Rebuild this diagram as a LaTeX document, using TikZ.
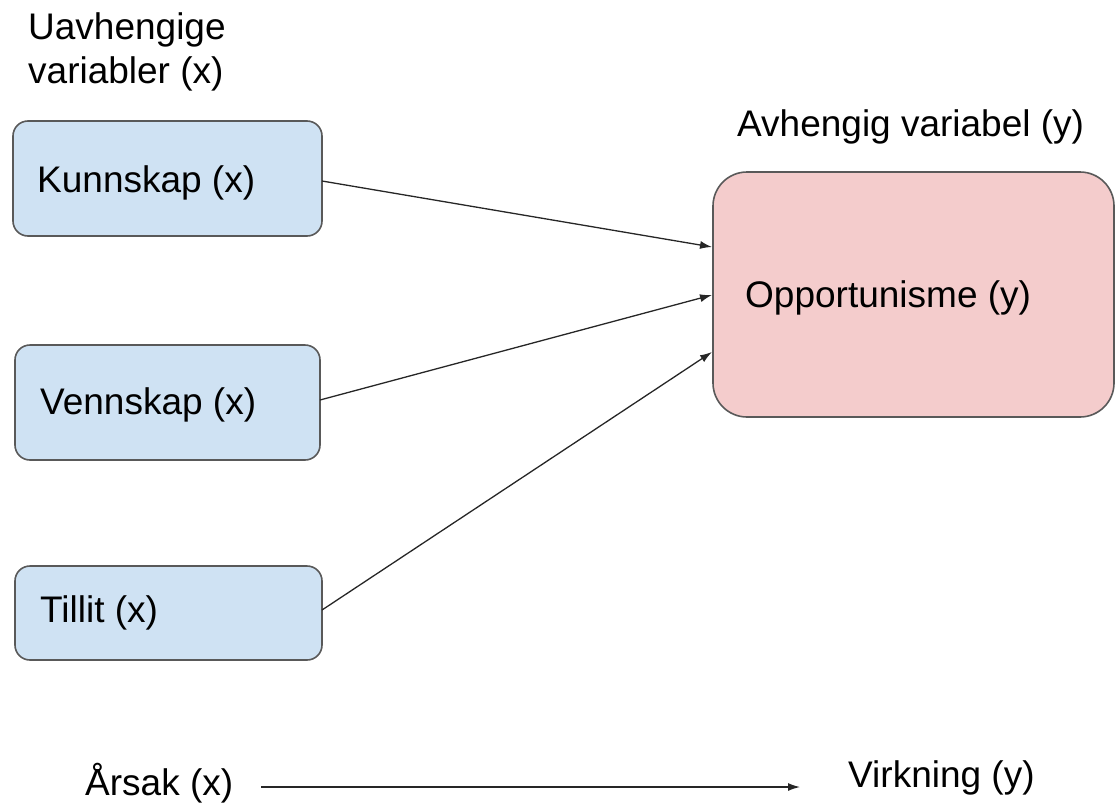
\documentclass[tikz,border=0pt]{standalone}
\usepackage{fontspec}
\setmainfont{Liberation Sans}
\usetikzlibrary{arrows.meta}
\definecolor{boxblue}{HTML}{CFE2F3}
\definecolor{boxpink}{HTML}{F4CCCC}
\definecolor{edge}{HTML}{595959}
\tikzset{
  varbox/.style={draw=edge, line width=1.6pt, rounded corners=15pt, fill=boxblue},
  depbox/.style={draw=edge, line width=1.6pt, rounded corners=34pt, fill=boxpink},
  lbl/.style={font=\fontsize{37}{44}\selectfont, text=black, inner sep=0pt, anchor=west},
  link/.style={draw=black!85, line width=1.3pt, -{Latex[length=12pt,width=8pt]}}
}
\begin{document}
\begin{tikzpicture}[x=1pt,y=-1pt]
\useasboundingbox (0,0) rectangle (1115,806);
% boxes
\draw[varbox] (13,121) rectangle (322,236);
\draw[varbox] (15,345) rectangle (320,460);
\draw[varbox] (15,566) rectangle (322,660);
\draw[depbox] (713,172) rectangle (1114,417);
% box labels
\node[lbl] (kunn) at (37,183) {Kunnskap (x)};
\node[lbl] (venn) at (40,405) {Vennskap (x)};
\node[lbl] (till) at (40,613) {Tillit (x)};
\node[lbl] (opp) at (745,298) {Opportunisme (y)};
% headings
\node[lbl, align=left, anchor=north west] (uavh) at (28,12) {Uavhengige\\variabler (x)};
\node[lbl] (avh) at (737,127) {Avhengig variabel (y)};
% connection points
\coordinate (k1) at (322,181);
\coordinate (v1) at (320,400);
\coordinate (t1) at (322,610);
\coordinate (o1) at (712,247);
\coordinate (o2) at (712,295);
\coordinate (o3) at (712,352);
\draw[link] (k1) -- (o1);
\draw[link] (v1) -- (o2);
\draw[link] (t1) -- (o3);
% cause and effect
\node[lbl] (arsak) at (85,783) {Årsak (x)};
\node[lbl] (virk) at (848,778) {Virkning (y)};
\coordinate (a1) at (261,787);
\coordinate (a2) at (800,787);
\draw[link] (a1) -- (a2);
\end{tikzpicture}
\end{document}
